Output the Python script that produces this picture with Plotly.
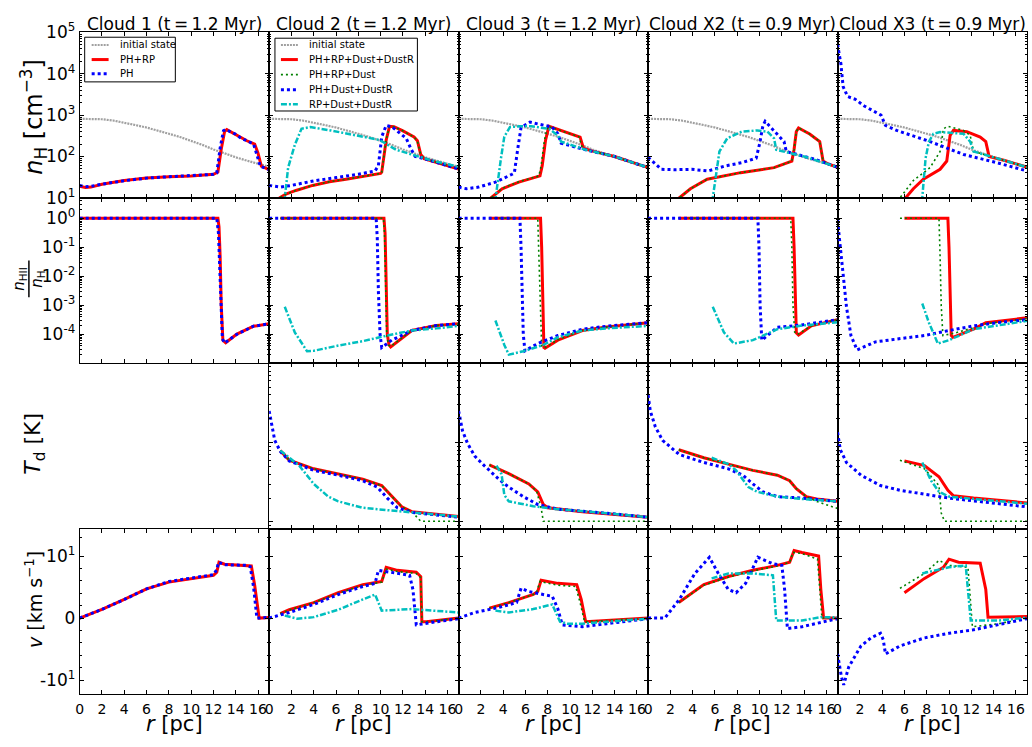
import math
import plotly.graph_objects as go

# ---------------- data ----------------
TITLES = ["Cloud 1 (t\u2009=\u20091.2 Myr)", "Cloud 2 (t\u2009=\u20091.2 Myr)",
          "Cloud 3 (t\u2009=\u20091.2 Myr)", "Cloud X2 (t\u2009=\u20090.9 Myr)",
          "Cloud X3 (t\u2009=\u20090.9 Myr)"]
X_TICKS = [0, 2, 4, 6, 8, 10, 12, 14, 16]

# initial density profile, r [pc] / n_H [cm^-3]
INIT_R = [0, 1, 2, 3, 4, 5, 6, 7, 8, 9, 10, 11, 12, 13, 14, 15, 16, 17]
INIT_NH = [813, 813, 794, 741, 661, 575, 501, 427, 355, 295, 240, 191, 148, 117, 95.5, 79.4, 66.1, 56.2]

# ---- row 1: n_H [cm^-3], (r, value) ----
C1_NH_RED = [(0, 19), (0.5, 17.8), (1, 18.2), (2, 21.4), (4, 26.3), (6, 30.2), (8, 32.4), (10, 33.9), (12, 37.2),
             (12.4, 42), (12.7, 150), (13.0, 400), (13.2, 447), (14, 339), (14.5, 275), (15, 240), (15.7, 200),
             (16.0, 120), (16.3, 58), (17, 48)]
C1_NH_BLUE = [(0, 20), (0.5, 18.5), (1, 19), (2, 21.4), (4, 26), (6, 30), (8, 32.4), (10, 34), (12, 37),
              (12.3, 40), (12.6, 160), (12.9, 420), (13.1, 450), (14, 345), (14.5, 275), (15, 240), (15.6, 200),
              (15.9, 110), (16.2, 58), (17, 48)]
C2_NH_RED = [(0.8, 8), (0.95, 10), (1.5, 12.3), (2.4, 15.1), (3.9, 20), (5.4, 24.5), (6.9, 28.2), (8.4, 32.4),
             (10.0, 38.9), (10.1, 41.7), (10.5, 251), (10.8, 537), (11.2, 525), (12, 417), (13, 295), (13.3, 240),
             (13.6, 112), (13.9, 89), (15, 72), (17, 50)]
C2_NH_GREEN = [(0.8, 8), (0.95, 10), (1.5, 12.3), (2.4, 15.1), (3.9, 20), (5.4, 24.5), (6.9, 28.2), (8.4, 32.4),
               (10.0, 38.9), (10.1, 42), (10.5, 255), (10.8, 537), (11.2, 525), (12, 417), (13, 295), (13.3, 235),
               (13.6, 110), (13.9, 89), (15, 72), (17, 50)]
C2_NH_BLUE = [(0, 20), (1, 18.2), (2, 20), (4, 25.7), (6, 30.9), (8, 37.2), (9.5, 44.7), (9.8, 60), (10.1, 300),
              (10.5, 562), (11, 525), (12.3, 275), (12.7, 158), (13.1, 100), (14, 87), (15, 72), (17, 50)]
C2_NH_CYAN = [(1.35, 8), (1.4, 10), (1.7, 53.7), (2.3, 191), (2.9, 468), (3.7, 513), (5.5, 427), (8.4, 302),
              (9.9, 251), (11.4, 145), (14.4, 83), (17, 56)]
C3_NH_RED = [(2.8, 8), (2.9, 10), (3.9, 16.6), (5.4, 24), (7.3, 33.9), (7.5, 60), (7.8, 250), (8.1, 537),
             (10.9, 295), (11.2, 158), (12, 135), (14, 100), (17, 53.7)]
C3_NH_GREEN = [(2.8, 8), (2.9, 10), (3.9, 17), (5.4, 24.5), (7.2, 33.9), (7.4, 60), (7.7, 250), (8.0, 537),
               (10.8, 300), (11.1, 160), (12, 135), (14, 100), (17, 53.7)]
C3_NH_BLUE = [(0, 18.2), (0.7, 16.6), (1.8, 18.2), (3.3, 24), (4.8, 37.2), (5.0, 40), (5.3, 150), (5.6, 500),
              (6.4, 676), (8.4, 513), (8.9, 355), (9.2, 209), (11.4, 145), (14, 100), (17, 53.7)]
C3_NH_CYAN = [(3.3, 8), (3.33, 10.5), (3.8, 91), (4.1, 302), (4.6, 513), (5.5, 537), (6.5, 537), (8.1, 468),
              (8.9, 324), (9.2, 229), (11.4, 145), (14, 100), (17, 53.7)]
X2_NH_RED = [(2.75, 8), (2.8, 10), (3.8, 16.6), (5.3, 28.2), (8.3, 40.7), (11.3, 53.7), (12.9, 77.6), (13.1, 150),
             (13.3, 400), (13.5, 490), (14.5, 350), (15.4, 229), (15.7, 77.6), (16.2, 65), (17, 55)]
X2_NH_GREEN = [(2.75, 8), (2.8, 10), (3.8, 16.6), (5.3, 28.2), (8.3, 40.7), (11.3, 53.7), (12.9, 77.6),
               (13.1, 150), (13.3, 400), (13.5, 490), (14.5, 350), (15.4, 229), (15.7, 77.6), (16.2, 65), (17, 55)]
X2_NH_BLUE = [(0, 95.5), (0.5, 70.8), (1.2, 49), (2.4, 47.9), (3.9, 49), (5.4, 44.7), (6.9, 58.9), (8.4, 70.8),
              (9.7, 91.2), (10.0, 200), (10.3, 550), (10.5, 708), (11.3, 427), (12.2, 229), (12.4, 132),
              (13.5, 110), (15, 85), (17, 55)]
X2_NH_CYAN = [(5.75, 8), (5.8, 10), (6.1, 44.7), (6.4, 132), (7.1, 275), (8.4, 398), (9.8, 427), (10.7, 398),
              (11.3, 275), (11.5, 145), (12.5, 125), (14, 100), (17, 55)]
X3_NH_RED = [(6.0, 8), (6.1, 10), (6.8, 16.6), (7.7, 28.2), (9.2, 49), (9.8, 77.6), (10.1, 324), (10.4, 427),
             (11.6, 398), (12.8, 295), (13.3, 229), (13.6, 100), (15, 80), (17, 55)]
X3_NH_GREEN = [(5.5, 8), (5.6, 10), (6.8, 26.3), (8.3, 53.7), (9.2, 132), (9.5, 468), (9.9, 537), (11.3, 427),
               (11.9, 324), (12.2, 132), (13, 115), (15, 80), (17, 55)]
X3_NH_BLUE = [(0, 51300), (0.3, 17400), (0.5, 4900), (0.9, 2820), (1.6, 2400), (2.4, 1660), (3.9, 1000),
              (4.3, 562), (5.3, 427), (8.3, 229), (11.3, 112), (14.3, 70.8), (17, 44.7)]
X3_NH_CYAN = [(7.55, 8), (7.6, 10), (7.9, 91.2), (8.2, 229), (8.6, 355), (9.2, 389), (11.3, 355), (11.9, 229),
              (12.2, 132), (13, 115), (15, 80), (17, 55)]

# ---- row 2: ionised fraction n_HII / n_H ----
C1_FR_RED = [(0, 1), (12.4, 1), (12.5, 0.5), (12.6, 0.05), (12.7, 1e-3), (12.85, 6.2e-5), (13.1, 5.1e-5),
             (14.1, 1.02e-4), (15.6, 1.9e-4), (17, 2.3e-4)]
C1_FR_BLUE = [(0, 1), (12.3, 1), (12.45, 0.3), (12.55, 0.02), (12.65, 1e-3), (12.8, 7e-5), (13.0, 5.0e-5),
              (14.1, 1.0e-4), (15.6, 1.9e-4), (17, 2.3e-4)]
C2_FR_RED = [(1.0, 1), (10.3, 1), (10.4, 0.3), (10.5, 0.01), (10.6, 1e-4), (10.75, 4.3e-5), (10.9, 3.7e-5),
             (12.8, 1.35e-4), (15, 2.0e-4), (17, 2.3e-4)]
C2_FR_GREEN = [(1.0, 1), (10.25, 1), (10.35, 0.3), (10.45, 0.01), (10.55, 1e-4), (10.7, 4.3e-5), (10.9, 3.8e-5),
               (12.8, 1.35e-4), (15, 2.0e-4), (17, 2.3e-4)]
C2_FR_BLUE = [(0, 1), (9.6, 1), (9.7, 0.2), (9.8, 3e-3), (9.95, 1e-4), (10.1, 3.5e-5), (11, 6.3e-5),
              (12.8, 1.35e-4), (15, 2.0e-4), (17, 2.3e-4)]
C2_FR_CYAN = [(1.4, 8.9e-4), (2.3, 1.17e-4), (3.4, 2.6e-5), (4.0, 2.7e-5), (6.2, 4.1e-5), (8.4, 5.8e-5),
              (10.6, 9.1e-5), (12.8, 1.35e-4), (15, 1.6e-4), (17, 1.95e-4)]
C3_FR_RED = [(2.75, 1), (7.35, 1), (7.45, 0.1), (7.55, 1e-3), (7.65, 3.5e-5), (7.75, 3.3e-5), (8.9, 6.3e-5),
             (11.1, 1.35e-4), (13.3, 1.8e-4), (17, 2.5e-4)]
C3_FR_GREEN = [(2.75, 1), (7.1, 1), (7.2, 0.05), (7.3, 1e-3), (7.45, 4e-5), (7.7, 3.4e-5), (8.9, 6.5e-5),
               (11.1, 1.35e-4), (13.3, 1.8e-4), (17, 2.5e-4)]
C3_FR_BLUE = [(0, 1), (5.5, 1), (5.6, 0.1), (5.7, 1e-3), (5.8, 1e-4), (5.95, 2.7e-5), (7.1, 4.8e-5),
              (8.9, 9.1e-5), (11.1, 1.5e-4), (13.3, 1.9e-4), (17, 2.5e-4)]
C3_FR_CYAN = [(3.3, 3.0e-4), (4.1, 4.3e-5), (4.5, 2.0e-5), (5.8, 2.6e-5), (7.6, 4.3e-5), (8.9, 7.9e-5),
              (11.1, 1.35e-4), (13.3, 1.6e-4), (17, 1.95e-4)]
X2_FR_RED = [(2.75, 1), (13.0, 1), (13.1, 0.1), (13.2, 1e-3), (13.3, 1.12e-4), (13.5, 9.5e-5), (14.65, 1.95e-4),
             (17, 3.2e-4)]
X2_FR_GREEN = [(2.75, 1), (12.8, 1), (12.9, 0.1), (13.0, 1e-3), (13.15, 1.2e-4), (13.4, 9.8e-5),
               (14.65, 1.95e-4), (17, 3.2e-4)]
X2_FR_BLUE = [(0, 1), (9.85, 1), (9.95, 0.1), (10.05, 1e-3), (10.2, 6.3e-5), (11.6, 1.74e-4), (13.8, 2.1e-4),
              (17, 3.2e-4)]
X2_FR_CYAN = [(5.8, 8.9e-4), (6.8, 1.17e-4), (7.7, 4.8e-5), (9.4, 6.3e-5), (11.6, 1.5e-4), (13.8, 2e-4),
              (17, 2.6e-4)]
X3_FR_RED = [(6.0, 1), (9.9, 1), (10.0, 0.1), (10.1, 1e-3), (10.2, 9.1e-5), (10.35, 7.9e-5), (12.2, 1.5e-4),
             (13.3, 2.5e-4), (17, 3.7e-4)]
X3_FR_GREEN = [(5.6, 1), (9.1, 1), (9.2, 0.05), (9.3, 1e-3), (9.45, 9.1e-5), (10.5, 1.1e-4), (12.2, 1.7e-4),
               (13.3, 2.3e-4), (17, 3.5e-4)]
X3_FR_BLUE = [(0, 0.85), (0.35, 0.041), (0.8, 8.9e-4), (1.2, 9.1e-5), (1.75, 2.9e-5), (3.4, 5.5e-5),
              (5.6, 7.1e-5), (7.8, 9.1e-5), (10, 1.35e-4), (12.2, 1.95e-4), (14.3, 2.5e-4), (17, 3.2e-4)]
X3_FR_CYAN = [(7.6, 1.15e-3), (8.2, 2.5e-4), (9.0, 4.8e-5), (10, 6.3e-5), (12.2, 1.5e-4), (17, 2.9e-4)]

# ---- row 3: dust temperature T_d [K] ----
C2_TD_RED = [(1.0, 79.4), (1.8, 60.3), (4, 46.8), (6.2, 40.7), (8.4, 34.7), (10.1, 28.8), (11, 20.9),
             (11.9, 15.5), (12.8, 13.5), (17, 11.7)]
C2_TD_GREEN = [(1.0, 79.4), (1.8, 60.3), (4, 46.8), (6.2, 40.7), (8.4, 34.7), (10.1, 28.8), (11, 20.9),
               (11.9, 15.5), (12.8, 13.5), (13.6, 10.2), (17, 10.2)]
C2_TD_BLUE = [(0, 251), (0.3, 158), (0.5, 107), (1, 77.6), (1.8, 58.9), (4, 44.7), (6.2, 38.9), (8.4, 33.1),
              (9.7, 27.5), (10.6, 20), (11.5, 15.1), (12.8, 13.2), (17, 11.5)]
C2_TD_CYAN = [(1.0, 79.4), (1.8, 64.6), (2.7, 51.3), (4, 30.2), (5.3, 20.9), (6.2, 18.2), (8.4, 15.1),
              (10.6, 14.1), (12.8, 13.2), (17, 11.7)]
C3_TD_RED = [(2.75, 52.5), (4.5, 40.7), (6.3, 30.2), (7.1, 24), (7.6, 16.6), (8.0, 15.1), (11.1, 13.5),
             (17, 11.5)]
C3_TD_GREEN = [(2.75, 52.5), (4.5, 40.7), (6.3, 30.2), (7.0, 24.5), (7.4, 15), (7.6, 10.2), (17, 10.2)]
C3_TD_BLUE = [(0, 251), (0.35, 141), (0.8, 97.7), (1.45, 67.6), (2.3, 51.3), (3.6, 34.7), (4.5, 27.5),
              (5.8, 20.9), (7.1, 16.6), (8.9, 14.5), (13.3, 12.9), (17, 11.5)]
C3_TD_CYAN = [(3.4, 51.3), (3.85, 40), (4.1, 21.9), (4.5, 18.2), (6.7, 15.8), (8.9, 14.5), (13.3, 12.9),
              (17, 11.5)]
X2_TD_RED = [(2.75, 81.3), (5, 64.6), (7.2, 53.7), (9.4, 44.7), (11.6, 38.9), (12.7, 33.1), (13.3, 26.3),
             (14.2, 20.9), (15.1, 19.5), (17, 18.2)]
X2_TD_GREEN = [(2.75, 81.3), (5, 64.6), (7.2, 53.7), (9.4, 44.7), (11.6, 38.9), (12.7, 33.1), (13.3, 26.3),
               (14.2, 20.9), (15.1, 18.2), (17, 14.8)]
X2_TD_BLUE = [(0, 398), (0.2, 251), (0.65, 158), (1.3, 107), (2.8, 70.8), (5, 56.2), (7.2, 46.8), (8.5, 38.9),
              (9.4, 30.2), (10.3, 24), (11.6, 20.9), (13.8, 20), (17, 18.2)]
X2_TD_CYAN = [(5.7, 64.6), (7.2, 53.7), (7.9, 44.7), (9.0, 27.5), (9.8, 24), (11.6, 20.9), (13.8, 19.5),
              (17, 18.2)]
X3_TD_RED = [(6.0, 58.9), (7.8, 51.3), (9.1, 37.2), (9.9, 25.1), (10.4, 21.4), (12.2, 20), (17, 17.4)]
X3_TD_GREEN = [(5.6, 60), (7.8, 46.8), (9.1, 28.8), (9.3, 13), (9.6, 10.2), (17, 10.2)]
X3_TD_BLUE = [(0, 135), (0.25, 81.3), (0.8, 56.2), (2.1, 38.9), (3.85, 28.8), (5.6, 25.1), (10, 20),
              (14.3, 17), (17, 15.5)]
X3_TD_CYAN = [(7.6, 56.2), (8.4, 33.1), (9.1, 24), (10, 20.9), (12.2, 19.5), (17, 17)]

# ---- row 4: velocity v [km/s] ----
C1_V_RED = [(0, 0), (2, 1.4), (4, 3.0), (6, 4.7), (8, 5.8), (10, 6.4), (12, 6.9), (12.3, 7.4), (12.5, 9.0),
            (13, 8.7), (15, 8.5), (15.4, 8.4), (15.7, 5.3), (16.1, 0), (17, 0.1)]
C1_V_BLUE = [(0, 0), (2, 1.4), (4, 3.0), (6, 4.7), (8, 5.9), (10, 6.5), (12, 7.0), (12.3, 7.8), (12.45, 9.0),
             (13, 8.6), (15, 8.5), (15.3, 8.3), (15.6, 5), (15.9, 0), (17, 0.1)]
C2_V_RED = [(1.0, 0.7), (1.8, 1.35), (4, 2.5), (6.2, 4.1), (8.4, 5.4), (10.1, 5.9), (10.5, 8.2), (11.5, 7.7),
            (13.2, 7.4), (13.6, 6.7), (13.7, -0.6), (14.1, -0.6), (17, 0)]
C2_V_GREEN = [(1.0, 0.7), (1.8, 1.3), (4, 2.5), (6.2, 4.0), (8.4, 5.3), (10.1, 5.8), (10.5, 7.9), (11.5, 7.5),
              (13.2, 7.2), (13.6, 6.5), (13.7, -0.6), (14.1, -0.6), (17, 0)]
C2_V_BLUE = [(0, 0), (1.8, 0.9), (4, 2.2), (6.2, 3.8), (8.4, 5.1), (9.5, 5.6), (9.8, 7.7), (11, 7.4),
             (12.6, 6.9), (12.9, 4.6), (13.2, -1.1), (15, -0.6), (17, -0.1)]
C2_V_CYAN = [(1.4, 0.4), (2.5, -0.1), (4, 0.15), (6.2, 1.35), (8.4, 3.0), (9.5, 3.8), (10.1, 1.2),
             (12.8, 1.45), (17, 0.9)]
C3_V_RED = [(2.75, 1.6), (4.5, 2.5), (6.7, 3.8), (7.1, 4.3), (7.4, 6.1), (8.9, 5.6), (10.6, 5.4), (11.0, 3),
            (11.4, -0.6), (13.3, -0.4), (17, 0)]
C3_V_GREEN = [(2.75, 1.6), (4.5, 2.5), (6.7, 3.8), (7.0, 4.2), (7.3, 5.9), (8.9, 5.3), (10.5, 5.1),
              (10.9, 2.5), (11.3, -0.6), (13.3, -0.4), (17, 0)]
C3_V_BLUE = [(0, 0), (1.45, 0.9), (3.6, 1.7), (5.2, 2.5), (5.6, 4.8), (6.25, 4.3), (8.4, 3.5), (8.9, 1.5),
             (9.3, -1.1), (11.1, -1.4), (13.3, -0.9), (17, -0.1)]
C3_V_CYAN = [(3.3, 1.2), (4.5, 0.9), (6.7, 1.45), (8.4, 2.2), (9.1, -0.6), (9.75, -0.9), (11.1, -0.9),
             (13.3, -0.6), (17, -0.1)]
X2_V_RED = [(2.75, 2.5), (5, 5.4), (7.2, 6.7), (9.4, 7.7), (11.6, 8.5), (12.7, 9.0), (13.1, 12.3),
            (13.8, 11.4), (15.3, 10), (15.5, 4.6), (15.75, 0), (17, 0)]
X2_V_GREEN = [(2.75, 2.5), (5, 5.3), (7.2, 6.6), (9.4, 7.6), (11.6, 8.4), (12.7, 9.0), (13.0, 11.5),
              (13.8, 11), (15.2, 9.5), (15.4, 4), (15.6, 0), (17, 0)]
X2_V_BLUE = [(0, 0), (1.5, 0), (2.8, 3.0), (4.2, 7.2), (5.5, 9.8), (6.3, 7.2), (7.2, 4.6), (7.9, 4.1),
             (8.75, 5.6), (9.85, 9.8), (11.2, 8.75), (12.0, 8.5), (12.25, 4.6), (12.5, -1.7), (13.8, -1.4),
             (17, -0.1)]
X2_V_CYAN = [(5.7, 6.4), (7.2, 7.2), (9.4, 7.2), (11.2, 6.9), (11.5, -0.4), (13.8, -0.4), (15.5, 0.15),
             (17, 0.15)]
X3_V_RED = [(6.0, 4.1), (7.8, 6.4), (9.5, 8.2), (10, 9.5), (10.85, 9.0), (12.8, 8.85), (13.3, 4.6),
            (13.5, 0.15), (17, 0.25)]
X3_V_GREEN = [(5.6, 4.8), (7.8, 7.2), (9.1, 9.3), (10, 8.5), (11.7, 8.2), (12.1, -1.4), (14.5, -0.9), (17, 0)]
X3_V_BLUE = [(0, -5.8), (0.35, -9.5), (0.55, -12), (1.0, -7.9), (2.1, -4.5), (3.0, -3.2), (3.85, -2.45),
             (4.1, -3.5), (4.3, -5.8), (5.6, -4.5), (7.8, -3.2), (10, -2.45), (12.2, -1.9), (14.3, -1.1),
             (17, -0.1)]
X3_V_CYAN = [(7.6, 7.2), (10, 8.2), (11.5, 8.5), (11.95, -0.4), (14.5, -0.4), (17, 0.1)]

LEGEND1_ITEMS = [("init", "initial state"), ("red", "PH+RP"), ("blue", "PH")]
LEGEND2_ITEMS = [("init", "initial state"), ("red", "PH+RP+Dust+DustR"), ("green", "PH+RP+Dust"),
                 ("blue", "PH+Dust+DustR"), ("cyan", "RP+Dust+DustR")]

# ---------------- styling / layout ----------------
W, H = 1032, 747
X_EDGES = [76, 266.2, 456.4, 646.6, 836.8, 1027]
Y_EDGES = [21, 191.5, 362, 532.5, 703]
FONT = "DejaVu Sans"
LINTHRESH = 10.0

STYLE = {
    "init": dict(color="#a0a0a0", width=2.2, dash="2px,1px"),
    "red": dict(color="#ff0000", width=3),
    "green": dict(color="#008000", width=1.6, dash="2px,3px"),
    "blue": dict(color="#0000ff", width=3, dash="3px,3px"),
    "cyan": dict(color="#00bfbf", width=2.5, dash="6px,2px,2px,2px"),
}


def symlog(v):
    a = abs(v)
    if a <= LINTHRESH:
        return v / LINTHRESH
    return math.copysign(1 + math.log10(a / LINTHRESH), v)


PANELS = {
    (0, 0): [("red", C1_NH_RED), ("blue", C1_NH_BLUE)],
    (0, 1): [("red", C2_NH_RED), ("green", C2_NH_GREEN), ("blue", C2_NH_BLUE), ("cyan", C2_NH_CYAN)],
    (0, 2): [("red", C3_NH_RED), ("green", C3_NH_GREEN), ("blue", C3_NH_BLUE), ("cyan", C3_NH_CYAN)],
    (0, 3): [("red", X2_NH_RED), ("green", X2_NH_GREEN), ("blue", X2_NH_BLUE), ("cyan", X2_NH_CYAN)],
    (0, 4): [("red", X3_NH_RED), ("green", X3_NH_GREEN), ("blue", X3_NH_BLUE), ("cyan", X3_NH_CYAN)],
    (1, 0): [("red", C1_FR_RED), ("blue", C1_FR_BLUE)],
    (1, 1): [("red", C2_FR_RED), ("green", C2_FR_GREEN), ("blue", C2_FR_BLUE), ("cyan", C2_FR_CYAN)],
    (1, 2): [("red", C3_FR_RED), ("green", C3_FR_GREEN), ("blue", C3_FR_BLUE), ("cyan", C3_FR_CYAN)],
    (1, 3): [("red", X2_FR_RED), ("green", X2_FR_GREEN), ("blue", X2_FR_BLUE), ("cyan", X2_FR_CYAN)],
    (1, 4): [("red", X3_FR_RED), ("green", X3_FR_GREEN), ("blue", X3_FR_BLUE), ("cyan", X3_FR_CYAN)],
    (2, 0): [],
    (2, 1): [("red", C2_TD_RED), ("green", C2_TD_GREEN), ("blue", C2_TD_BLUE), ("cyan", C2_TD_CYAN)],
    (2, 2): [("red", C3_TD_RED), ("green", C3_TD_GREEN), ("blue", C3_TD_BLUE), ("cyan", C3_TD_CYAN)],
    (2, 3): [("red", X2_TD_RED), ("green", X2_TD_GREEN), ("blue", X2_TD_BLUE), ("cyan", X2_TD_CYAN)],
    (2, 4): [("red", X3_TD_RED), ("green", X3_TD_GREEN), ("blue", X3_TD_BLUE), ("cyan", X3_TD_CYAN)],
    (3, 0): [("red", C1_V_RED), ("blue", C1_V_BLUE)],
    (3, 1): [("red", C2_V_RED), ("green", C2_V_GREEN), ("blue", C2_V_BLUE), ("cyan", C2_V_CYAN)],
    (3, 2): [("red", C3_V_RED), ("green", C3_V_GREEN), ("blue", C3_V_BLUE), ("cyan", C3_V_CYAN)],
    (3, 3): [("red", X2_V_RED), ("green", X2_V_GREEN), ("blue", X2_V_BLUE), ("cyan", X2_V_CYAN)],
    (3, 4): [("red", X3_V_RED), ("green", X3_V_GREEN), ("blue", X3_V_BLUE), ("cyan", X3_V_CYAN)],
}

fig = go.Figure()


def ax_ids(r, c):
    i = r * 5 + c + 1
    return "" if i == 1 else str(i)


for r in range(4):
    for c in range(5):
        s = ax_ids(r, c)
        series = list(PANELS[(r, c)])
        if r == 0:
            series = [("init", list(zip(INIT_R, INIT_NH)))] + series
        for key, pts in series:
            xs = [p[0] for p in pts]
            ys = [p[1] for p in pts]
            if r == 3:
                ys = [symlog(v) for v in ys]
            fig.add_trace(go.Scatter(x=xs, y=ys, mode="lines", line=STYLE[key], name=key,
                                     showlegend=False, hoverinfo="skip",
                                     xaxis="x" + s, yaxis="y" + s))

# axes
log_minor = lambda lo, hi: [m * 10 ** k for k in range(lo, hi) for m in range(2, 10)]
Y_SPECS = [
    dict(type="log", range=[1, 5], tickvals=[10, 100, 1e3, 1e4, 1e5],
         ticktext=["10<sup>1</sup>", "10<sup>2</sup>", "10<sup>3</sup>", "10<sup>4</sup>", "10<sup>5</sup>"],
         minor_vals=log_minor(1, 5)),
    dict(type="log", range=[-5, 0.7], tickvals=[1e-4, 1e-3, 1e-2, 1e-1, 1],
         ticktext=["10<sup>-4</sup>", "10<sup>-3</sup>", "10<sup>-2</sup>", "10<sup>-1</sup>", "10<sup>0</sup>"],
         minor_vals=log_minor(-5, 1)),
    dict(type="log", range=[math.log10(8.2), 3], tickvals=[10, 100, 1000],
         ticktext=["10<sup>1</sup>", "10<sup>2</sup>", "10<sup>3</sup>"],
         minor_vals=log_minor(0, 3)),
    dict(type="linear", range=[-1.23, 1.44], tickvals=[-1, 0, 1],
         ticktext=["-10<sup>1</sup>", "0", "10<sup>1</sup>"],
         minor_vals=[symlog(v) for v in (-20, -2, -4, -6, -8, 2, 4, 6, 8, 20)]),
]

layout_axes = {}
for r in range(4):
    for c in range(5):
        s = ax_ids(r, c)
        layout_axes["xaxis" + s] = dict(
            domain=[X_EDGES[c] / W, X_EDGES[c + 1] / W], anchor="y" + s, range=[0, 17],
            tickvals=X_TICKS, showticklabels=(r == 3), ticks="inside", ticklen=4, tickcolor="black",
            mirror="allticks", showline=True, linecolor="black", linewidth=1, showgrid=False,
            zeroline=False, tickfont=dict(size=14, color="black", family=FONT), ticklabelstandoff=2)
        spec = Y_SPECS[r]
        layout_axes["yaxis" + s] = dict(
            domain=[1 - Y_EDGES[r + 1] / H, 1 - Y_EDGES[r] / H], anchor="x" + s, type=spec["type"],
            range=spec["range"], tickvals=spec["tickvals"], ticktext=spec["ticktext"],
            showticklabels=(c == 0), ticks="inside", ticklen=4, tickcolor="black",
            mirror="allticks", showline=True, linecolor="black", linewidth=1, showgrid=False,
            zeroline=False, tickfont=dict(size=17, color="black", family=FONT),
            minor=dict(tickvals=spec["minor_vals"], ticks="inside", ticklen=2, tickcolor="black",
                       showgrid=False))

annotations = []
shapes = []


def px_x(v):
    return v / W


def px_y(v):
    return 1 - v / H


for c in range(5):
    cx = (X_EDGES[c] + X_EDGES[c + 1]) / 2 / W
    annotations.append(dict(text=TITLES[c], x=cx, y=px_y(12), xref="paper", yref="paper",
                            showarrow=False, font=dict(size=17, color="black", family=FONT),
                            xanchor="center", yanchor="middle"))
    annotations.append(dict(text="<i>r</i> [pc]", x=cx, y=px_y(734), xref="paper", yref="paper",
                            showarrow=False, font=dict(size=21, color="black", family=FONT),
                            xanchor="center", yanchor="middle"))

YLABELS = [("<i>n</i><sub>H</sub> [cm<sup>\u22123</sup>]", 30, 108, 24),
           ("<i>T</i><sub>d</sub> [K]", 31, 445, 22),
           ("<i>v</i> [km s<sup>\u22121</sup>]", 30, 605, 19)]
for txt, px, py, fs in YLABELS:
    annotations.append(dict(text=txt, x=px_x(px), y=px_y(py), xref="paper", yref="paper", showarrow=False,
                            textangle=-90, font=dict(size=fs, color="black", family=FONT),
                            xanchor="center", yanchor="middle"))
# fraction label n_HII / n_H
annotations.append(dict(text="<i>n</i><sub>HII</sub>", x=px_x(16), y=px_y(275), xref="paper", yref="paper",
                        showarrow=False, textangle=-90, font=dict(size=15, color="black", family=FONT),
                        xanchor="center", yanchor="middle"))
annotations.append(dict(text="<i>n</i><sub>H</sub>", x=px_x(34), y=px_y(275), xref="paper", yref="paper",
                        showarrow=False, textangle=-90, font=dict(size=15, color="black", family=FONT),
                        xanchor="center", yanchor="middle"))
shapes.append(dict(type="line", xref="paper", yref="paper", x0=px_x(25), x1=px_x(25), y0=px_y(256),
                   y1=px_y(294), line=dict(color="black", width=1.5)))


# legends (box, line samples and labels)
def add_legend(items, box, sample_x, text_x, row_y):
    x0, y0, x1, y1 = box
    shapes.append(dict(type="rect", xref="paper", yref="paper", x0=px_x(x0), x1=px_x(x1), y0=px_y(y0),
                       y1=px_y(y1), line=dict(color="black", width=1), fillcolor="white", layer="above"))
    for k, (key, label) in enumerate(items):
        yy = row_y[k]
        st = STYLE[key]
        shapes.append(dict(type="line", xref="paper", yref="paper", x0=px_x(sample_x[0]), x1=px_x(sample_x[1]),
                           y0=px_y(yy), y1=px_y(yy), layer="above",
                           line=dict(color=st["color"], width=st["width"], dash=st.get("dash", "solid"))))
        annotations.append(dict(text=label, x=px_x(text_x), y=px_y(yy), xref="paper", yref="paper",
                                showarrow=False, xanchor="left", yanchor="middle",
                                font=dict(size=10, color="black", family=FONT)))


add_legend(LEGEND1_ITEMS, (81, 26, 172, 72), (88, 105), 114, [34, 49, 63.5])
add_legend(LEGEND2_ITEMS, (272, 27, 415, 102), (278, 295), 304, [34, 49, 64.5, 80, 95])

fig.update_layout(
    width=W, height=H, autosize=False, margin=dict(l=0, r=0, t=0, b=0),
    paper_bgcolor="white", plot_bgcolor="white", showlegend=False,
    font=dict(family=FONT, color="black"),
    annotations=annotations, shapes=shapes,
    **layout_axes,
)

fig.write_html("out.html", config={"displayModeBar": False})
